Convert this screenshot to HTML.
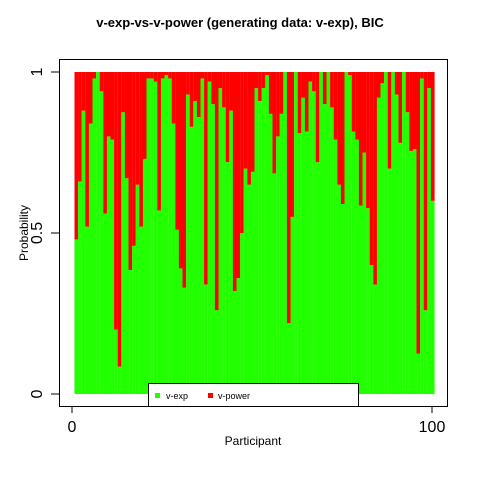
<!DOCTYPE html>
<html><head><meta charset="utf-8"><style>
body{margin:0;background:#fff;}
svg{display:block;font-family:"Liberation Sans",Arial,sans-serif;}
</style></head><body>
<svg id="chart" width="480" height="480" viewBox="0 0 480 480">
<text x="240" y="27" text-anchor="middle" font-size="13" font-weight="bold">v-exp-vs-v-power (generating data: v-exp), BIC</text>
<g id="bars"></g>
<rect x="59.5" y="59.5" width="388" height="347" fill="none" stroke="#000" stroke-width="1"/>
<g id="axes"></g>
<text transform="translate(28,233) rotate(-90)" text-anchor="middle" font-size="12">Probability</text>
<text x="253" y="445" text-anchor="middle" font-size="12">Participant</text>
<g>
<rect x="148.5" y="383.5" width="210" height="23" fill="#fff" stroke="#000"/>
<g><rect x="155" y="393" width="5" height="5" fill="#22ff00"/><text x="166" y="399" font-size="9">v-exp</text></g>
<g><rect x="208" y="393" width="5" height="5" fill="#ff0000"/><text x="218" y="399" font-size="9">v-power</text></g>
</g>
</svg>
<script>
const vExp = [0.48,0.66,0.88,0.52,0.84,0.98,1.0,0.94,0.56,0.80,
0.79,0.20,0.085,0.875,0.67,0.385,0.46,0.65,0.52,0.73,
0.98,0.98,0.97,0.57,0.98,0.99,0.98,0.84,0.51,0.39,
0.33,0.93,0.83,0.91,0.86,0.98,0.34,0.97,0.90,0.26,
0.95,0.89,0.72,0.88,0.32,0.36,0.50,0.70,0.65,0.69,
0.95,0.91,0.95,0.99,0.87,0.685,0.80,0.87,1.0,0.22,
0.55,1.0,0.81,0.92,0.815,0.97,0.94,0.72,1.0,0.90,
1.0,0.89,0.79,0.65,0.59,1.0,0.99,0.815,0.79,0.585,
0.75,0.577,0.40,0.34,0.92,0.965,1.0,0.70,1.0,0.93,
0.78,1.0,0.875,0.755,0.76,0.125,0.98,0.26,0.95,0.60];
const yTicks = [0,0.5,1];
const yTickLabels = ["0","0.5","1"];
const xTicks = [0,100];
const xTickLabels = ["0","100"];
const NS="http://www.w3.org/2000/svg";
const xScale = v => 72 + v*3.6;
const yScale = v => 394 - v*322;
const bars=document.getElementById('bars');
vExp.forEach((v,i)=>{
  const x0=74.5+i*3.6;
  const g=document.createElementNS(NS,'rect');
  g.setAttribute('x',x0);g.setAttribute('width',3.7);
  g.setAttribute('y',yScale(v));g.setAttribute('height',yScale(0)-yScale(v));
  g.setAttribute('fill','#22ff00');
  
  
  bars.appendChild(g);
  const r=document.createElementNS(NS,'rect');
  r.setAttribute('x',x0);r.setAttribute('width',3.7);
  r.setAttribute('y',yScale(1));r.setAttribute('height',yScale(v)-yScale(1));
  r.setAttribute('fill','#ff0000');
  
  
  bars.appendChild(r);
});
const axes=document.getElementById('axes');
function line(x1,y1,x2,y2,name){const l=document.createElementNS(NS,'line');
l.setAttribute('x1',x1);l.setAttribute('y1',y1);l.setAttribute('x2',x2);l.setAttribute('y2',y2);l.setAttribute('stroke','#000');


axes.appendChild(l);}
line(59.5,yScale(0),59.5,yScale(1),'y-axis-line');
yTicks.forEach((t,i)=>{const y=yScale(t);line(51,y,59.5,y,'y-tick');
const tx=document.createElementNS(NS,'text');
tx.setAttribute('transform',`translate(42,${y}) rotate(-90)`);tx.setAttribute('text-anchor','middle');tx.setAttribute('font-size','16');


tx.textContent=yTickLabels[i];axes.appendChild(tx);});
line(xScale(0),406.5,xScale(100),406.5,'x-axis-line');
xTicks.forEach((t,i)=>{const x=xScale(t);line(x,406.5,x,413,'x-tick');
const tx=document.createElementNS(NS,'text');
tx.setAttribute('x',x);tx.setAttribute('y',432);tx.setAttribute('text-anchor','middle');tx.setAttribute('font-size','16');


tx.textContent=xTickLabels[i];axes.appendChild(tx);});
</script>
</body></html>
